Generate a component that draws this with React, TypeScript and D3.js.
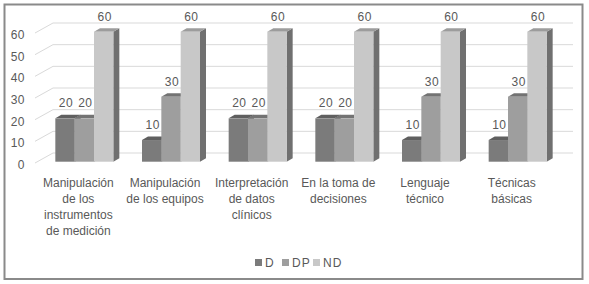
import React from "react";
import * as d3 from "d3";

const categories = [
  "Manipulación de los instrumentos de medición",
  "Manipulación de los equipos",
  "Interpretación de datos clínicos",
  "En la toma de decisiones",
  "Lenguaje técnico",
  "Técnicas básicas",
];
const categoryLines = [
  ["Manipulación", "de los", "instrumentos", "de medición"],
  ["Manipulación", "de los equipos"],
  ["Interpretación", "de datos", "clínicos"],
  ["En la toma de", "decisiones"],
  ["Lenguaje", "técnico"],
  ["Técnicas", "básicas"],
];
const seriesNames = ["D", "DP", "ND"];
const valuesD = [20, 10, 20, 20, 10, 10];
const valuesDP = [20, 30, 20, 20, 30, 30];
const valuesND = [60, 60, 60, 60, 60, 60];
const yTicks = [0, 10, 20, 30, 40, 50, 60];

const seriesValues = [valuesD, valuesDP, valuesND];
const frontColors = ["#7b7b7b", "#9e9e9e", "#c8c8c8"];
const topColors = ["#5f5f5f", "#737373", "#9c9c9c"];
const sideColors = ["#505050", "#666666", "#707070"];

const W = 589;
const H = 284;
const DX = 18;
const DY = -10;
const BDX = 6;
const BDY = -3.5;
const FONT = "'Liberation Sans', Arial, sans-serif";
const TEXT = "#595959";

export default function App() {
  const xFront = d3.scaleBand<string>().domain(categories).range([35, 555]);
  const step = xFront.step();
  const groupW = 58;
  const xInner = d3.scaleBand<string>().domain(seriesNames).range([0, groupW]);
  const yFront = d3.scaleLinear().domain([0, 60]).range([163, 33]);
  const yBar = d3.scaleLinear().domain([0, 60]).range([161.7, 31.7]);

  const bars: React.ReactNode[] = [];
  const labels: React.ReactNode[] = [];
  categories.forEach((c, ci) => {
    const gx = (xFront(c) as number) + (step - groupW) / 2 + BDX;
    seriesNames.forEach((s, si) => {
      const v = seriesValues[si][ci];
      const x0 = gx + (xInner(s) as number);
      const x1 = x0 + xInner.bandwidth();
      const yb = yBar(0);
      const yt = yBar(v);
      bars.push(
        <g key={`${ci}-${si}`}>
          <polygon
            points={`${x1},${yb} ${x1 + BDX},${yb + BDY} ${x1 + BDX},${yt + BDY} ${x1},${yt}`}
            fill={sideColors[si]}
          />
          <polygon
            points={`${x0},${yt} ${x1},${yt} ${x1 + BDX},${yt + BDY} ${x0 + BDX},${yt + BDY}`}
            fill={topColors[si]}
          />
          <rect x={x0} y={yt} width={x1 - x0} height={yb - yt} fill={frontColors[si]} />
        </g>
      );
      labels.push(
        <text
          key={`l${ci}-${si}`}
          x={(x0 + x1) / 2 + 1}
          y={yt - 11}
          textAnchor="middle"
          fontSize={12}
          letterSpacing={0.5}
          fill={TEXT}
          fontFamily={FONT}
        >
          {v}
        </text>
      );
    });
  });

  return (
    <svg
      width={W}
      height={H}
      style={{ position: "absolute", left: 0, top: 0, background: "#fff" }}
    >
      <rect x={0} y={0} width={W} height={H} fill="#fff" />
      <rect x={4.5} y={4.5} width={578} height={274.5} fill="none" stroke="#8a8a8a" strokeWidth={2} />
      {yTicks.map((t) => (
        <g key={t}>
          <line
            x1={35}
            y1={yFront(t)}
            x2={35 + DX}
            y2={yFront(t) + DY}
            stroke="#d9d9d9"
            strokeWidth={1}
          />
          <line
            x1={35 + DX}
            y1={yFront(t) + DY}
            x2={555 + DX}
            y2={yFront(t) + DY}
            stroke="#d9d9d9"
            strokeWidth={1}
          />
          <text
            x={25}
            y={yFront(t) + 6}
            textAnchor="end"
            fontSize={12}
            letterSpacing={0.5}
            fill={TEXT}
            fontFamily={FONT}
          >
            {t}
          </text>
        </g>
      ))}
      {bars}
      {labels}
      {categories.map((c, ci) => (
        <text
          key={c}
          x={(xFront(c) as number) + step / 2}
          y={187}
          textAnchor="middle"
          fontSize={12}
          fill={TEXT}
          fontFamily={FONT}
        >
          {categoryLines[ci].map((ln, li) => (
            <tspan key={li} x={(xFront(c) as number) + step / 2} dy={li === 0 ? 0 : 16}>
              {ln}
            </tspan>
          ))}
        </text>
      ))}
      {seriesNames.map((s, si) => {
        const lx = [255, 282, 313][si];
        return (
          <g key={s}>
            <rect x={lx} y={259} width={7} height={7} fill={frontColors[si]} />
            <text x={lx + 10} y={267} fontSize={12} letterSpacing={1} fill={TEXT} fontFamily={FONT}>
              {s}
            </text>
          </g>
        );
      })}
    </svg>
  );
}
